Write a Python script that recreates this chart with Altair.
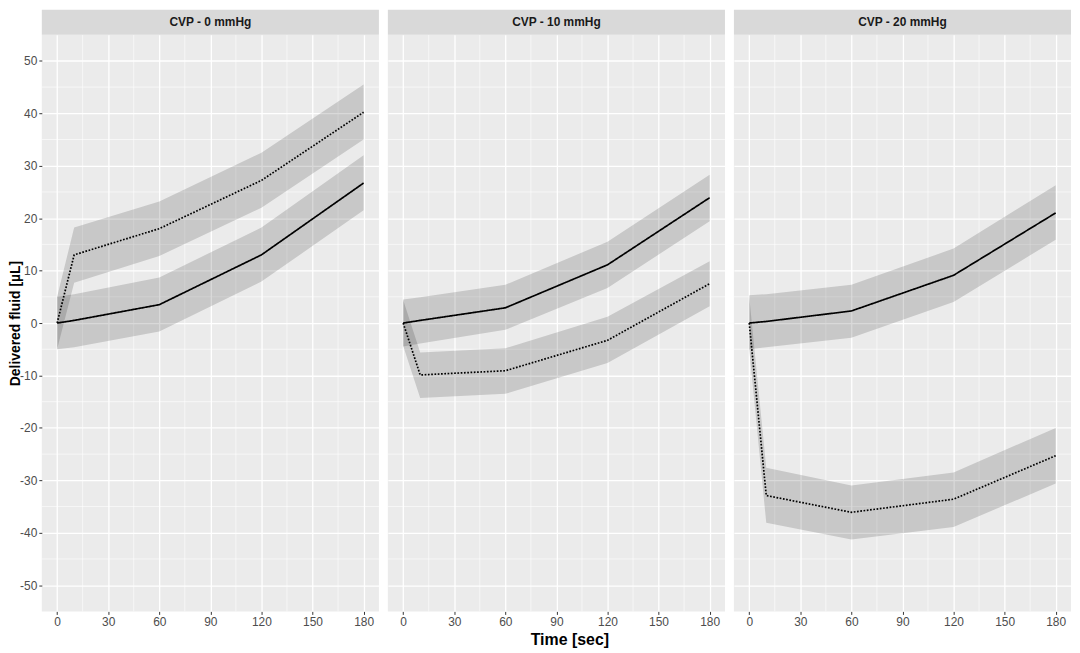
import altair as alt
import pandas as pd

panels = ["CVP - 0 mmHg", "CVP - 10 mmHg", "CVP - 20 mmHg"]
time_s = [0, 10, 60, 120, 180]

solid_mean = [
    [0, 0.5, 3.5, 13.0, 26.7],
    [0, 0.5, 2.9, 11.1, 23.9],
    [0, 0.3, 2.3, 9.1, 21.0],
]
solid_hi = [
    [5.0, 5.5, 8.7, 18.2, 32.0],
    [4.5, 4.9, 7.3, 15.5, 28.3],
    [5.3, 5.5, 7.3, 14.2, 26.3],
]
solid_lo = [
    [-5.0, -4.6, -1.6, 7.9, 21.5],
    [-4.5, -3.9, -1.3, 6.7, 19.4],
    [-5.0, -4.6, -2.8, 4.0, 15.9],
]
dotted_mean = [
    [0, 13.0, 18.0, 27.2, 40.2],
    [0, -9.9, -9.1, -3.3, 7.5],
    [0, -32.9, -36.1, -33.6, -25.3],
]
dotted_hi = [
    [5.0, 18.2, 23.2, 32.5, 45.5],
    [4.4, -5.6, -4.8, 1.2, 11.8],
    [5.0, -27.6, -31.0, -28.5, -20.0],
]
dotted_lo = [
    [-5.0, 7.7, 12.8, 22.0, 35.0],
    [-4.4, -14.3, -13.5, -7.6, 3.2],
    [-5.0, -38.1, -41.3, -38.9, -30.6],
]

x_ticks = [0, 30, 60, 90, 120, 150, 180]
x_minor = [15, 45, 75, 105, 135, 165]
y_ticks = [-50, -40, -30, -20, -10, 0, 10, 20, 30, 40, 50]
y_minor = [-45, -35, -25, -15, -5, 5, 15, 25, 35, 45]

rows = []
for p, name in enumerate(panels):
    for series, means, lows, highs in [
        ("solid", solid_mean[p], solid_lo[p], solid_hi[p]),
        ("dotted", dotted_mean[p], dotted_lo[p], dotted_hi[p]),
    ]:
        for t, m, lo, hi in zip(time_s, means, lows, highs):
            rows.append(dict(panel=name, series=series, time=t, mean=m, lo=lo, hi=hi))
df = pd.DataFrame(rows)

W, H = 339, 580
FONT = "Liberation Sans"
xscale = alt.Scale(domain=[-9, 189], nice=False, zero=False)
yscale = alt.Scale(domain=[-55, 55], nice=False, zero=False)


def make_panel(i, name):
    d = df[df.panel == name]
    xkw = dict(values=x_ticks, labelExpr="'' + datum.value")
    if i == 1:
        xkw.update(title="Time [sec]", titleFontSize=16, titleFontWeight="bold",
                   titleColor="#000000", titlePadding=4, titleX=W / 2 + 13)
    else:
        xkw.update(title=None)
    xaxis = alt.Axis(**xkw)
    if i == 0:
        yaxis = alt.Axis(values=y_ticks, labelExpr="'' + datum.value",
                         title="Delivered fluid [µL]", titleFontSize=14,
                         titleFontWeight="bold", titleColor="#000000", titlePadding=-3)
    else:
        yaxis = alt.Axis(values=y_ticks, labels=False, ticks=False, title=None)

    minx = alt.Chart(pd.DataFrame({"v": x_minor})).mark_rule(
        color="white", strokeWidth=0.6).encode(x=alt.X("v:Q", scale=xscale, axis=xaxis))
    miny = alt.Chart(pd.DataFrame({"v": y_minor})).mark_rule(
        color="white", strokeWidth=0.6).encode(y=alt.Y("v:Q", scale=yscale, axis=yaxis))

    area = alt.Chart(d).mark_area(color="black", opacity=0.15).encode(
        x=alt.X("time:Q", scale=xscale, axis=xaxis),
        y=alt.Y("lo:Q", scale=yscale, axis=yaxis),
        y2="hi:Q",
        detail="series:N",
    )
    line = alt.Chart(d).mark_line(color="black", strokeWidth=1.7).encode(
        x=alt.X("time:Q", scale=xscale, axis=xaxis),
        y=alt.Y("mean:Q", scale=yscale, axis=yaxis),
        strokeDash=alt.StrokeDash(
            "series:N",
            scale=alt.Scale(domain=["solid", "dotted"], range=[[1, 0], [1.7, 1.6]]),
            legend=None,
        ),
    )
    lab = pd.DataFrame({"label": [name]})
    strip = alt.Chart(lab).mark_rect(color="#d9d9d9").encode(
        x=alt.value(0), x2=alt.value(W), y=alt.value(-25), y2=alt.value(0))
    txt = alt.Chart(lab).mark_text(font=FONT, fontSize=12, fontWeight="bold",
                                   color="#1a1a1a").encode(
        x=alt.value(W / 2), y=alt.value(-12.5), text="label:N")
    return alt.layer(minx, miny, area, line, strip, txt).properties(width=W, height=H)


chart = alt.hconcat(*[make_panel(i, n) for i, n in enumerate(panels)], spacing=7).properties(
    padding=0, background="white"
).configure_view(fill="#ebebeb", strokeWidth=0).configure_axis(
    domain=False,
    tickColor="#333333",
    tickSize=3,
    labelColor="#4d4d4d",
    labelFontSize=12,
    labelFont=FONT,
    titleFont=FONT,
    labelPadding=2,
    grid=True,
    gridColor="white",
    gridWidth=1.3,
)

chart.save("out.html", embed_options={"renderer": "svg", "actions": False})
